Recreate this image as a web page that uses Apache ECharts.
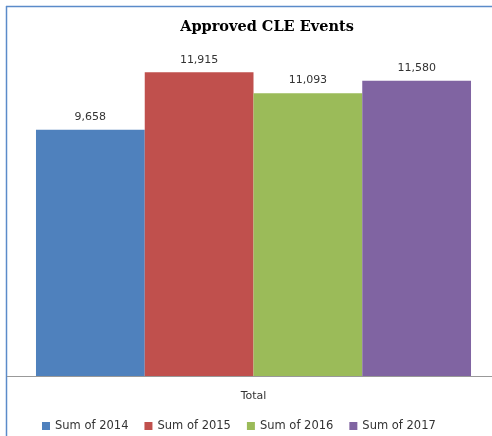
<!DOCTYPE html>
<html><head><meta charset="utf-8">
<script src="https://cdn.jsdelivr.net/npm/echarts@6/dist/echarts.min.js"></script>
<style>html,body{margin:0;padding:0;background:#fff}#c{width:492px;height:436px}</style>
</head><body><div id="c"></div>
<script>
const categories = ["Total"];
const seriesNames = ["Sum of 2014", "Sum of 2015", "Sum of 2016", "Sum of 2017"];
const values2014 = [9658];
const values2015 = [11915];
const values2016 = [11093];
const values2017 = [11580];
const colors = ["#4F81BD", "#C0504D", "#9BBB59", "#8064A2"];
const allValues = [values2014, values2015, values2016, values2017];

const chart = echarts.init(document.getElementById('c'), null, {renderer: 'canvas'});
chart.setOption({
  animation: false,
  title: {
    text: 'Approved CLE Events', left: 262, top: 15, textAlign: 'center',
    textStyle: {fontFamily: 'DejaVu Serif', fontWeight: 'bold', fontSize: 14.5, color: '#000'}
  },
  legend: {
    top: 420, left: 42, itemWidth: 8, itemHeight: 8, itemGap: 16,
    icon: 'rect', padding: 0,
    textStyle: {fontFamily: 'DejaVu Sans', fontSize: 11.5, color: '#333'},
    data: seriesNames
  },
  grid: {left: 15, right: 0, top: 19, bottom: 60},
  xAxis: {
    type: 'category', data: categories,
    axisLine: {show: false},
    axisTick: {show: false},
    axisLabel: {fontFamily: 'DejaVu Sans', fontSize: 11, color: '#333', margin: 15}
  },
  yAxis: {type: 'value', min: 0, max: 14000, show: false, splitLine: {show: false}},
  graphic: [
    {type: 'line', shape: {x1: 6.5, y1: 6, x2: 6.5, y2: 436}, style: {stroke: '#5B8BC9', lineWidth: 1.5}},
    {type: 'line', shape: {x1: 6, y1: 6.5, x2: 492, y2: 6.5}, style: {stroke: '#5B8BC9', lineWidth: 1.5}},
    {type: 'line', z: 10, shape: {x1: 7, y1: 376.5, x2: 492, y2: 376.5}, style: {stroke: '#999', lineWidth: 1}}
  ],
  series: seriesNames.map((n, i) => ({
    name: n, type: 'bar', data: allValues[i],
    barGap: 0, barCategoryGap: '8.8%',
    itemStyle: {color: colors[i]},
    label: {show: true, position: 'top', distance: 7,
      fontFamily: 'DejaVu Sans', fontSize: 11, color: '#333',
      formatter: p => p.value.toLocaleString('en-US')}
  }))
});
</script></body></html>
